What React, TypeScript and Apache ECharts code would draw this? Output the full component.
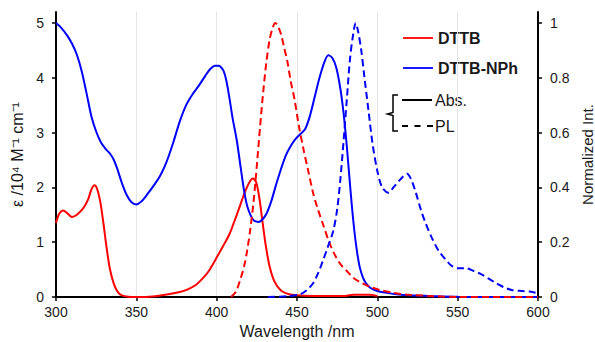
import React, { useEffect, useRef } from "react";
import * as echarts from "echarts";

// ---- Data ----
// DTTB absorption (ε / 10^4 M^-1 cm^-1)
const dttbAbsX = [300, 302, 304.5, 307, 310, 313, 317, 320, 322, 324, 325.5, 327.5, 329.5, 331.5, 333.5, 336, 338.5, 341, 345, 350, 360, 370, 377, 382, 387, 391, 395, 400, 404, 408, 411, 414, 417, 420, 422.5, 424.5, 426.5, 428.5, 430.5, 433, 436, 440, 445, 450, 460, 480, 485, 495, 500];
const dttbAbsY = [1.35, 1.52, 1.58, 1.53, 1.46, 1.5, 1.62, 1.78, 1.96, 2.04, 1.98, 1.75, 1.35, 0.9, 0.52, 0.24, 0.09, 0.03, 0.005, 0, 0.01, 0.05, 0.09, 0.14, 0.22, 0.33, 0.47, 0.72, 0.93, 1.15, 1.38, 1.62, 1.87, 2.07, 2.16, 2.1, 1.82, 1.38, 0.95, 0.55, 0.28, 0.12, 0.05, 0.03, 0.02, 0.02, 0.04, 0.04, 0.02];

// DTTB-NPh absorption
const nphAbsX = [300, 303, 307, 310, 313, 316, 319, 322, 325, 328, 331, 334, 336, 338, 341, 344, 347, 350, 353, 357, 361, 365, 369, 373, 377, 381, 385, 389, 393, 396, 399, 401, 404, 406, 408, 410, 412.5, 415, 417, 419, 421, 423, 426, 428, 431, 434, 437, 440, 443, 446, 449, 452, 455, 458, 461, 464, 467, 469.5, 472, 474.5, 477, 479, 481, 483, 485, 487, 489, 491, 493, 496, 500, 505, 512, 520, 535, 550, 600];
const nphAbsY = [5.0, 4.92, 4.77, 4.62, 4.42, 4.12, 3.72, 3.3, 3.02, 2.82, 2.7, 2.6, 2.5, 2.35, 2.08, 1.86, 1.73, 1.69, 1.74, 1.88, 2.04, 2.22, 2.48, 2.82, 3.2, 3.5, 3.7, 3.86, 4.04, 4.16, 4.22, 4.22, 4.14, 3.95, 3.62, 3.25, 2.86, 2.35, 1.95, 1.66, 1.5, 1.4, 1.37, 1.4, 1.52, 1.75, 2.05, 2.33, 2.58, 2.75, 2.88, 2.97, 3.06, 3.3, 3.65, 4.0, 4.28, 4.41, 4.36, 4.18, 3.8, 3.35, 2.75, 2.05, 1.4, 0.9, 0.55, 0.36, 0.25, 0.16, 0.11, 0.08, 0.05, 0.03, 0.015, 0.005, 0];

// DTTB PL (normalized)
const dttbPlX = [409, 412, 414.5, 417, 419, 421, 423, 425, 427, 429, 431, 433, 435, 436.5, 438, 440, 442, 444, 446, 448.5, 451, 454, 457, 460, 463, 466.5, 470, 473, 477, 481, 485, 489, 495, 502, 510, 520, 535, 550, 600];
const dttbPlY = [0, 0.02, 0.06, 0.11, 0.17, 0.25, 0.35, 0.48, 0.62, 0.75, 0.86, 0.94, 0.985, 1.0, 0.99, 0.96, 0.91, 0.86, 0.79, 0.72, 0.63, 0.54, 0.46, 0.38, 0.32, 0.26, 0.2, 0.16, 0.12, 0.095, 0.07, 0.055, 0.038, 0.025, 0.015, 0.008, 0.003, 0, 0];

// DTTB-NPh PL (normalized)
const nphPlX = [432, 445, 452, 456, 460, 463, 466, 469, 472.5, 475, 477, 479, 481, 483, 485, 486.5, 488, 490, 492, 494.5, 497, 500, 503, 507, 510, 513, 516, 518.5, 521, 524, 527, 530, 534, 538, 542, 546, 550, 555, 560, 564, 569, 574, 579, 584, 590, 595, 599];
const nphPlY = [0, 0.003, 0.01, 0.025, 0.05, 0.085, 0.13, 0.18, 0.24, 0.32, 0.43, 0.57, 0.72, 0.87, 0.96, 1.0, 0.97, 0.9, 0.8, 0.68, 0.56, 0.46, 0.4, 0.38, 0.4, 0.42, 0.44, 0.45, 0.43, 0.38, 0.32, 0.27, 0.215, 0.17, 0.14, 0.115, 0.105, 0.105, 0.095, 0.085, 0.068, 0.05, 0.035, 0.025, 0.022, 0.02, 0.015];

const xTicks = [300, 350, 400, 450, 500, 550, 600];
const leftTicks = [0, 1, 2, 3, 4, 5];
const rightTicks = [0, 0.2, 0.4, 0.6, 0.8, 1];

const pairs = (xs: number[], ys: number[]) => xs.map((x, i) => [x, ys[i]]);

const RED = "#ff0000";
const BLUE = "#0000ff";
const TXT = "#1a1a1a";
const FONT = "Liberation Sans, Arial, sans-serif";

export default function App() {
  const ref = useRef<HTMLDivElement>(null);

  useEffect(() => {
    document.body.style.margin = "0";
    const chart = echarts.init(ref.current!, null, { renderer: "svg" });
    const axisLine = { show: true, onZero: false, lineStyle: { color: "#000", width: 2 } };
    const tick = { show: true, inside: false, length: 4, lineStyle: { color: "#000", width: 1.5 } };
    const label = { color: TXT, fontSize: 14, fontFamily: FONT };
    const nameStyle = { color: TXT, fontSize: 16, fontFamily: FONT };
    const solid = (c: string) => ({ color: c, width: 2, type: "solid" as const });
    const dashed = (c: string) => ({ color: c, width: 2, type: [7, 4] as any });

    chart.setOption({
      animation: false,
      textStyle: { fontFamily: FONT },
      grid: { left: 56, right: 57, top: 12, bottom: 45, containLabel: false, outerBoundsMode: "none" },
      xAxis: {
        type: "value",
        min: 300,
        max: 600,
        interval: 50,
        name: "Wavelength /nm",
        nameLocation: "middle",
        nameGap: 22,
        nameTextStyle: nameStyle,
        axisLine,
        axisTick: { ...tick, customValues: xTicks },
        axisLabel: { ...label, margin: 8, customValues: xTicks },
        splitLine: { show: true, lineStyle: { color: "#e4e4e4", width: 1 } },
      },
      yAxis: [
        {
          type: "value",
          position: "left",
          min: 0,
          max: 5.2,
          interval: 1,
          name: "ε /10⁴ M⁻¹ cm⁻¹",
          nameLocation: "middle",
          nameRotate: 90,
          nameGap: 21,
          nameTextStyle: nameStyle,
          axisLine,
          axisTick: { ...tick, customValues: leftTicks },
          axisLabel: { ...label, margin: 12, customValues: leftTicks },
          splitLine: { show: false },
        },
        {
          type: "value",
          position: "right",
          min: 0,
          max: 1.04,
          interval: 0.2,
          name: "Normalized Int.",
          nameLocation: "middle",
          nameRotate: 90,
          nameGap: 35,
          nameTextStyle: { ...nameStyle, fontSize: 15 },
          axisLine,
          axisTick: { ...tick, customValues: rightTicks },
          axisLabel: { ...label, margin: 12, customValues: rightTicks },
          splitLine: { show: false },
        },
      ],
      series: [
        { name: "DTTB Abs.", type: "line", yAxisIndex: 0, data: pairs(dttbAbsX, dttbAbsY), showSymbol: false, smooth: 0.3, lineStyle: solid(RED) },
        { name: "DTTB-NPh Abs.", type: "line", yAxisIndex: 0, data: pairs(nphAbsX, nphAbsY), showSymbol: false, smooth: 0.3, lineStyle: solid(BLUE) },
        { name: "DTTB PL", type: "line", yAxisIndex: 1, data: pairs(dttbPlX, dttbPlY), showSymbol: false, smooth: 0.3, lineStyle: dashed(RED) },
        { name: "DTTB-NPh PL", type: "line", yAxisIndex: 1, data: pairs(nphPlX, nphPlY), showSymbol: false, smooth: 0.3, lineStyle: dashed(BLUE) },
      ],
      graphic: [
        { type: "line", shape: { x1: 403, y1: 38, x2: 433, y2: 38 }, style: { stroke: RED, lineWidth: 1.8 } },
        { type: "text", x: 438, y: 38, style: { text: "DTTB", fill: TXT, font: `bold 16px ${FONT}`, verticalAlign: "middle" } },
        { type: "line", shape: { x1: 403, y1: 68, x2: 433, y2: 68 }, style: { stroke: BLUE, lineWidth: 1.8 } },
        { type: "text", x: 438, y: 68, style: { text: "DTTB-NPh", fill: TXT, font: `bold 16px ${FONT}`, verticalAlign: "middle" } },
        {
          type: "polyline",
          shape: { points: [[398, 95], [393, 95], [393, 112.5], [387.5, 114], [393, 115.5], [393, 131], [398, 131]] },
          style: { stroke: "#000", lineWidth: 1.5, fill: "none" },
        },
        { type: "line", shape: { x1: 402, y1: 100, x2: 432, y2: 100 }, style: { stroke: "#000", lineWidth: 2 } },
        { type: "text", x: 435, y: 100, style: { text: "Abs.", fill: TXT, font: `16px ${FONT}`, verticalAlign: "middle" } },
        { type: "line", shape: { x1: 402, y1: 126, x2: 433, y2: 126 }, style: { stroke: "#000", lineWidth: 2, lineDash: [6, 6.5] } },
        { type: "text", x: 435, y: 126, style: { text: "PL", fill: TXT, font: `16px ${FONT}`, verticalAlign: "middle" } },
      ],
    });
    return () => chart.dispose();
  }, []);

  return <div ref={ref} style={{ width: 595, height: 342 }} />;
}
